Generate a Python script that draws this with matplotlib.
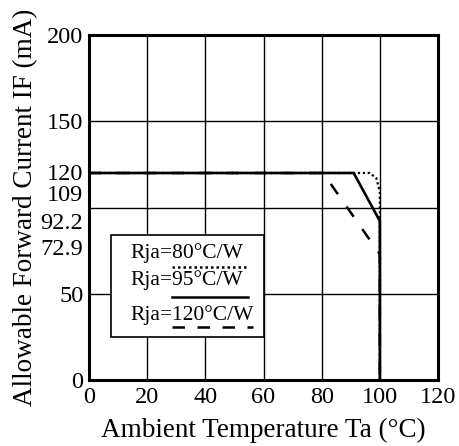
import matplotlib
matplotlib.use("Agg")
import matplotlib.pyplot as plt
import matplotlib.transforms as mtrans

plt.rcParams['font.family'] = ['Liberation Serif', 'DejaVu Serif']

# Data (Ta in °C, IF in mA)
ta_80 = [0, 96.5, 98.8, 100, 100]
if_80 = [120, 120, 117, 109, 0]
ta_95 = [0, 91, 100, 100]
if_95 = [120, 120, 92.2, 0]
ta_120 = [0, 80.5, 100, 100]
if_120 = [120, 120, 72.9, 0]

xticks = [0, 20, 40, 60, 80, 100, 120]
yticks = [0, 50, 72.9, 92.2, 109, 120, 150, 200]
ytick_labels = ['0', '50', '72.9', '92.2', '109', '120', '150', '200']
xgrid = [20, 40, 60, 80, 100]
ygrid = [50, 100, 150]
legend_labels = ['Rja=80°C/W', 'Rja=95°C/W', 'Rja=120°C/W']

fig = plt.figure(figsize=(4.59, 4.46), dpi=100)
ax = fig.add_axes([89/459, 1-380/446, (438-89)/459, (380-35)/446])
ax.set_xlim(0, 120)
ax.set_ylim(0, 200)

for x in xgrid:
    ax.axvline(x, color='black', lw=1.0, zorder=1)
for y in ygrid:
    ax.axhline(y, color='black', lw=1.0, zorder=1)

ax.plot(ta_80, if_80, color='black', lw=1.6, ls=(0, (1, 1.2)), zorder=3)
ax.plot(ta_95, if_95, color='black', lw=1.9, ls='-', zorder=3)
ax.plot(ta_120, if_120, color='black', lw=1.8, ls=(0, (5, 6)), zorder=3)

ax.set_xticks(xticks)
ax.set_xticklabels([str(v) for v in xticks])
ax.set_yticks(yticks)
ax.set_yticklabels(ytick_labels)
ax.tick_params(length=0, labelsize=17.5)
ax.tick_params(axis='x', pad=5)
ax.tick_params(axis='y', pad=4)
for s in ax.spines.values():
    s.set_linewidth(2.2)

# nudge crowded y tick labels (points)
nudges = {'72.9': 5.0, '109': -1.0, '120': 0.5}
for lbl, val in zip(ax.get_yticklabels(), ytick_labels):
    if val in nudges:
        lbl.set_transform(lbl.get_transform() +
                          mtrans.ScaledTranslation(0, nudges[val]/72, fig.dpi_scale_trans))

ax.set_xlabel('Ambient Temperature Ta (°C)', fontsize=19.5, labelpad=7)
ax.set_ylabel('Allowable Forward Current IF (mA)', fontsize=19.5, labelpad=2)

# Custom legend box
bx0, bx1 = 7.6, 60.3
by0, by1 = 25, 84
ax.add_patch(plt.Rectangle((bx0, by0), bx1 - bx0, by1 - by0, facecolor='white',
                           edgecolor='black', lw=1.2, zorder=4))
styles = [(0, (1, 1.2)), '-', (0, (5, 5))]
text_y = [73.6, 58, 37.7]
line_y = [65.5, 48.1, 30.7]
line_x1 = [54.7, 54.7, 56.4]
for lab, st, ty, ly, lx in zip(legend_labels, styles, text_y, line_y, line_x1):
    ax.text(14.3, ty, lab, fontsize=15.5, ha='left', va='center', zorder=5)
    ax.plot([28.5, lx], [ly, ly], color='black', lw=1.8, ls=st, zorder=5)

fig.savefig('out.png', dpi=100)
